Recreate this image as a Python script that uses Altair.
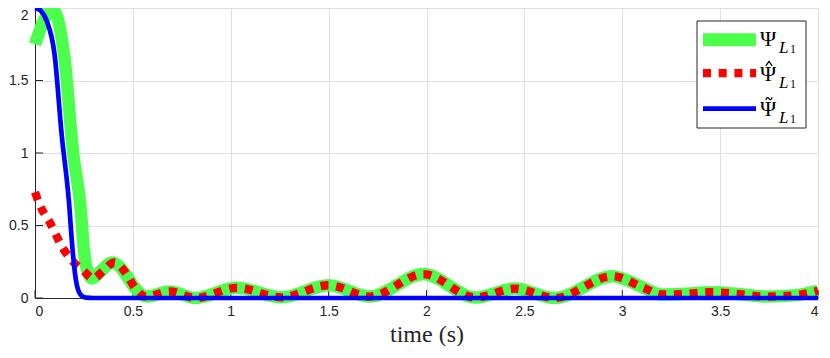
import altair as alt
import pandas as pd

# ---- data ----
psi_t = [0.0, 0.09, 0.15, 0.195, 0.233, 0.25, 0.265, 0.29, 0.34, 0.39, 0.43, 0.47, 0.51, 0.57,
         0.69, 0.82, 1.03, 1.26, 1.50, 1.71, 1.985, 2.25, 2.45, 2.655, 2.95, 3.11, 3.20, 3.33,
         3.45, 3.58, 3.74, 3.89, 4.0]
psi_y = [1.75, 1.99, 1.66, 1.0, 0.62, 0.33, 0.2, 0.135, 0.19, 0.245, 0.22, 0.15, 0.07, 0.01,
         0.045, 0.0, 0.07, 0.005, 0.088, 0.01, 0.165, 0.003, 0.065, 0.0, 0.15, 0.07, 0.024, 0.029,
         0.04, 0.029, 0.01, 0.02, 0.05]

hat_t = [0.0, 0.025, 0.076, 0.144, 0.195, 0.246, 0.297, 0.35, 0.405, 0.47, 0.51, 0.57,
         0.69, 0.82, 1.03, 1.26, 1.50, 1.71, 1.985, 2.25, 2.45, 2.655, 2.95, 3.11, 3.20, 3.33,
         3.45, 3.58, 3.74, 3.89, 4.0]
hat_y = [0.73, 0.64, 0.52, 0.34, 0.25, 0.19, 0.135, 0.19, 0.245, 0.16, 0.07, 0.01,
         0.045, 0.0, 0.07, 0.005, 0.088, 0.01, 0.165, 0.003, 0.065, 0.0, 0.15, 0.07, 0.024, 0.029,
         0.04, 0.029, 0.01, 0.02, 0.05]

til_t = [0.0, 0.03, 0.06, 0.10, 0.136, 0.173, 0.192, 0.212, 0.235, 0.26, 0.30, 4.0]
til_y = [2.0, 1.98, 1.91, 1.68, 1.13, 0.67, 0.33, 0.10, 0.02, 0.002, 0.0, 0.0]

x_ticks = [0, 0.5, 1, 1.5, 2, 2.5, 3, 3.5, 4]
y_ticks = [0, 0.5, 1, 1.5, 2]

legend_psi = "\u03A8"
legend_sub = "L"
legend_subsub = "1"
# accent glyph outlines (hat, tilde) drawn as symbol paths
accent_paths = ["", "M-1,0.7L0,-0.7L1,0.7",
                "M-1,0.45C-0.65,-0.55 -0.3,-0.45 0,0C0.3,0.45 0.65,0.55 1,-0.45"]

GREEN = "#4DFF4D"
RED = "#FF0000"
BLUE = "#0000FF"
AX = "#262626"

W, H = 783, 290

xs = alt.Scale(domain=[0, 4], nice=False)
ys = alt.Scale(domain=[0, 2], nice=False)

x_axis = alt.Axis(values=x_ticks, format="~g", title="time (s)", titleFont="Liberation Serif",
                  titleFontSize=24, titleFontWeight="normal", titleColor=AX,
                  titleBaseline="alphabetic", titleY=43, labelPadding=6, zindex=0)
y_axis = alt.Axis(values=y_ticks, format="~g", title=None, labelPadding=7, zindex=0,
                  labelOffset={"condition": {"test": "datum.value === 2", "value": 7}, "value": 0})

def line_df(t, y):
    return pd.DataFrame({"t": t, "y": y})

green = alt.Chart(line_df(psi_t, psi_y)).mark_line(
    color=GREEN, strokeWidth=12.5, interpolate="monotone", strokeCap="butt"
).encode(x=alt.X("t:Q", scale=xs, axis=x_axis), y=alt.Y("y:Q", scale=ys, axis=y_axis))

red = alt.Chart(line_df(hat_t, hat_y)).mark_line(
    color=RED, strokeWidth=8.3, strokeDash=[8, 7.7], interpolate="monotone", strokeCap="butt"
).encode(x=alt.X("t:Q", scale=xs), y=alt.Y("y:Q", scale=ys))

blue = alt.Chart(line_df(til_t, til_y)).mark_line(
    color=BLUE, strokeWidth=4.7, interpolate="monotone", strokeCap="butt"
).encode(x=alt.X("t:Q", scale=xs), y=alt.Y("y:Q", scale=ys))

xt = alt.Chart(pd.DataFrame({"t": x_ticks})).mark_rule(color=AX, strokeWidth=1).encode(
    x=alt.X("t:Q", scale=xs), y=alt.value(H), y2=alt.value(H - 8))
yt = alt.Chart(pd.DataFrame({"y": y_ticks})).mark_rule(color=AX, strokeWidth=1).encode(
    y=alt.Y("y:Q", scale=ys), x=alt.value(0), x2=alt.value(8))

one = pd.DataFrame({"a": [1]})
layers = [xt, yt, green, red, blue]

# legend box
layers.append(alt.Chart(one).mark_rect(fill="white", stroke=AX, strokeWidth=1).encode(
    x=alt.value(662), x2=alt.value(771), y=alt.value(13), y2=alt.value(120)))

styles = [
    dict(color=GREEN, strokeWidth=13),
    dict(color=RED, strokeWidth=8.3, strokeDash=[8, 7.7]),
    dict(color=BLUE, strokeWidth=4.7),
]
row_y = [31.7, 65.2, 100.7]
row_base = [38, 73, 108]
for i in range(3):
    yy = row_y[i]
    base = row_base[i]
    layers.append(alt.Chart(one).mark_rule(strokeCap="butt", **styles[i]).encode(
        x=alt.value(668), x2=alt.value(721), y=alt.value(yy)))
    layers.append(alt.Chart(one).mark_text(
        text=legend_psi, font="Liberation Serif", fontSize=22, align="center",
        baseline="alphabetic", color="black").encode(x=alt.value(733), y=alt.value(base)))
    if accent_paths[i]:
        layers.append(alt.Chart(one).mark_point(
            shape=accent_paths[i], filled=False, stroke="black", strokeWidth=1.2,
            size=40, opacity=1).encode(x=alt.value(734), y=alt.value(base - 17.4)))
    layers.append(alt.Chart(one).mark_text(
        text=legend_sub, font="Liberation Serif", fontSize=17, fontStyle="italic",
        align="left", baseline="alphabetic", color="black").encode(
        x=alt.value(744), y=alt.value(base + 7.3)))
    layers.append(alt.Chart(one).mark_text(
        text=legend_subsub, font="Liberation Serif", fontSize=12, align="left",
        baseline="alphabetic", color="black").encode(
        x=alt.value(755), y=alt.value(base + 7.3)))

chart = alt.layer(*layers).properties(
    width=W, height=H,
    autosize=alt.AutoSizeParams(type="none"),
    padding={"left": 27, "top": 0, "right": 4, "bottom": 48},
).configure_view(stroke=None).configure_axis(
    domainColor=AX, domainWidth=1, gridColor="#dfdfdf", gridWidth=1,
    labelColor=AX, labelFont="Liberation Sans", labelFontSize=14, ticks=False,
)

chart.save("out.html", embed_options={"renderer": "svg", "actions": False})
